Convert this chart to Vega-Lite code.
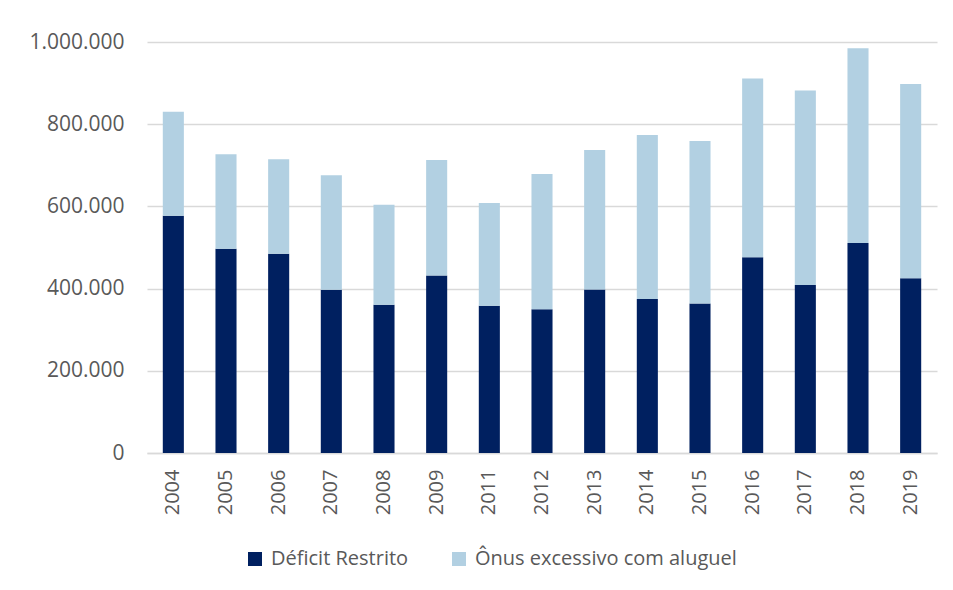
{
  "$schema": "https://vega.github.io/schema/vega-lite/v6.json",
  "width": 790,
  "height": 411,
  "autosize": "none",
  "padding": {"left": 147, "top": 42, "right": 16, "bottom": 137},
  "background": "white",
  "config": {
    "locale": {"number": {"decimal": ",", "thousands": ".", "grouping": [3], "currency": ["R$", ""]}},
    "view": {"stroke": null},
    "font": "Open Sans"
  },
  "data": {
    "values": [
      {"ano": "2004", "serie": "Déficit Restrito", "ord": 1, "valor": 577000},
      {"ano": "2004", "serie": "Ônus excessivo com aluguel", "ord": 2, "valor": 253000},
      {"ano": "2005", "serie": "Déficit Restrito", "ord": 1, "valor": 497000},
      {"ano": "2005", "serie": "Ônus excessivo com aluguel", "ord": 2, "valor": 230000},
      {"ano": "2006", "serie": "Déficit Restrito", "ord": 1, "valor": 485000},
      {"ano": "2006", "serie": "Ônus excessivo com aluguel", "ord": 2, "valor": 230000},
      {"ano": "2007", "serie": "Déficit Restrito", "ord": 1, "valor": 397000},
      {"ano": "2007", "serie": "Ônus excessivo com aluguel", "ord": 2, "valor": 279000},
      {"ano": "2008", "serie": "Déficit Restrito", "ord": 1, "valor": 361000},
      {"ano": "2008", "serie": "Ônus excessivo com aluguel", "ord": 2, "valor": 243000},
      {"ano": "2009", "serie": "Déficit Restrito", "ord": 1, "valor": 432000},
      {"ano": "2009", "serie": "Ônus excessivo com aluguel", "ord": 2, "valor": 281000},
      {"ano": "2011", "serie": "Déficit Restrito", "ord": 1, "valor": 358000},
      {"ano": "2011", "serie": "Ônus excessivo com aluguel", "ord": 2, "valor": 250000},
      {"ano": "2012", "serie": "Déficit Restrito", "ord": 1, "valor": 350000},
      {"ano": "2012", "serie": "Ônus excessivo com aluguel", "ord": 2, "valor": 329000},
      {"ano": "2013", "serie": "Déficit Restrito", "ord": 1, "valor": 398000},
      {"ano": "2013", "serie": "Ônus excessivo com aluguel", "ord": 2, "valor": 339000},
      {"ano": "2014", "serie": "Déficit Restrito", "ord": 1, "valor": 375000},
      {"ano": "2014", "serie": "Ônus excessivo com aluguel", "ord": 2, "valor": 399000},
      {"ano": "2015", "serie": "Déficit Restrito", "ord": 1, "valor": 364000},
      {"ano": "2015", "serie": "Ônus excessivo com aluguel", "ord": 2, "valor": 395000},
      {"ano": "2016", "serie": "Déficit Restrito", "ord": 1, "valor": 476000},
      {"ano": "2016", "serie": "Ônus excessivo com aluguel", "ord": 2, "valor": 435000},
      {"ano": "2017", "serie": "Déficit Restrito", "ord": 1, "valor": 409000},
      {"ano": "2017", "serie": "Ônus excessivo com aluguel", "ord": 2, "valor": 473000},
      {"ano": "2018", "serie": "Déficit Restrito", "ord": 1, "valor": 511000},
      {"ano": "2018", "serie": "Ônus excessivo com aluguel", "ord": 2, "valor": 474000},
      {"ano": "2019", "serie": "Déficit Restrito", "ord": 1, "valor": 425000},
      {"ano": "2019", "serie": "Ônus excessivo com aluguel", "ord": 2, "valor": 473000}
    ]
  },
  "mark": {"type": "bar"},
  "encoding": {
    "x": {
      "field": "ano",
      "type": "ordinal",
      "scale": {"paddingInner": 0.6, "paddingOuter": 0.3},
      "axis": {
        "title": null,
        "labelAngle": -90,
        "labelFontSize": 20,
        "labelColor": "#595959",
        "labelPadding": 16,
        "ticks": false,
        "domain": true,
        "domainColor": "#D9D9D9",
        "domainWidth": 1.5,
        "labelAlign": "right",
        "labelBaseline": "middle"
      }
    },
    "y": {
      "field": "valor",
      "type": "quantitative",
      "aggregate": "sum",
      "stack": "zero",
      "scale": {"domain": [0, 1000000], "nice": false},
      "axis": {
        "title": null,
        "values": [0, 200000, 400000, 600000, 800000, 1000000],
        "format": ",d",
        "labelFontSize": 21,
        "labelColor": "#595959",
        "labelPadding": 23,
        "ticks": false,
        "domain": false,
        "grid": true,
        "gridColor": "#D9D9D9",
        "gridWidth": 1.5
      }
    },
    "color": {
      "field": "serie",
      "type": "nominal",
      "scale": {
        "domain": ["Déficit Restrito", "Ônus excessivo com aluguel"],
        "range": ["#002060", "#B2D0E2"]
      },
      "legend": {
        "title": null,
        "orient": "none",
        "direction": "horizontal",
        "legendX": 98,
        "legendY": 507,
        "symbolType": "square",
        "symbolSize": 196,
        "symbolStrokeWidth": 0,
        "labelFontSize": 20,
        "labelColor": "#595959",
        "labelOffset": 6,
        "columnPadding": 40,
        "labelLimit": 400
      }
    },
    "order": {"field": "ord", "type": "quantitative", "sort": "ascending"}
  }
}
